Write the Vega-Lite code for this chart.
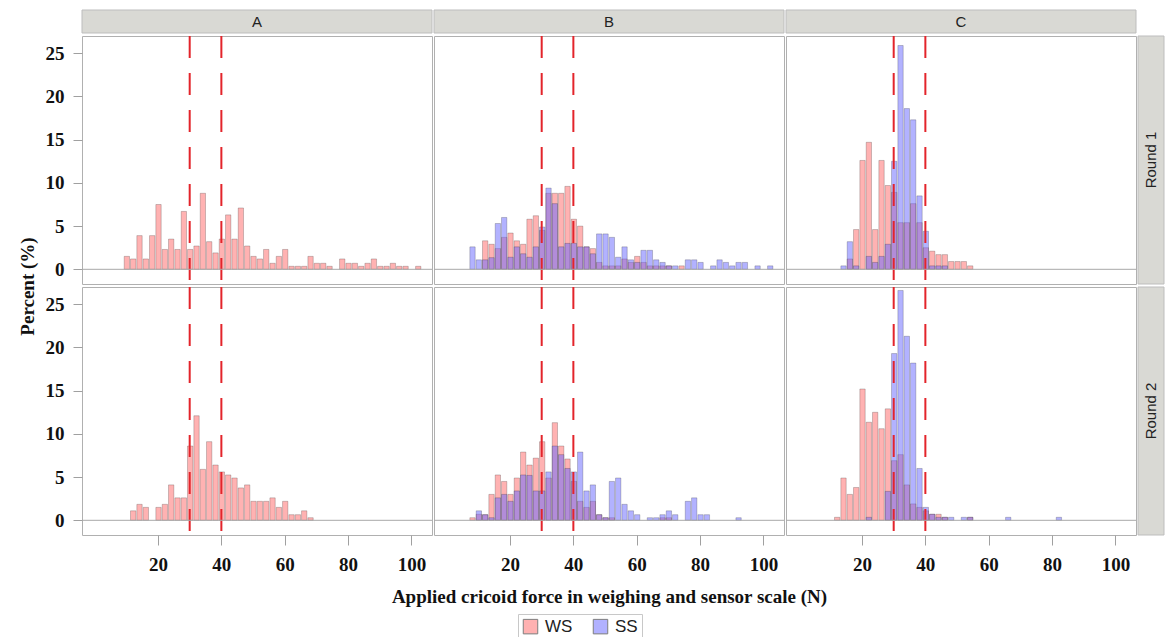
{
"$schema":"https://vega.github.io/schema/vega-lite/v6.json",
"padding":{"left":17,"top":9,"right":0,"bottom":0},
"background":"white",
"datasets":{
"cuts":[{"v":30},{"v":40}],
"h":[
{"p":"A","r":1,"s":"WS","c":10,"pct":1.5},{"p":"A","r":1,"s":"WS","c":12,"pct":1.2},{"p":"A","r":1,"s":"WS","c":14,"pct":3.9},{"p":"A","r":1,"s":"WS","c":16,"pct":1.2},{"p":"A","r":1,"s":"WS","c":18,"pct":3.9},{"p":"A","r":1,"s":"WS","c":20,"pct":7.5},{"p":"A","r":1,"s":"WS","c":22,"pct":2.3},{"p":"A","r":1,"s":"WS","c":24,"pct":3.5},{"p":"A","r":1,"s":"WS","c":26,"pct":2.3},{"p":"A","r":1,"s":"WS","c":28,"pct":6.7},{"p":"A","r":1,"s":"WS","c":30,"pct":2.3},{"p":"A","r":1,"s":"WS","c":32,"pct":2.7},{"p":"A","r":1,"s":"WS","c":34,"pct":8.8},{"p":"A","r":1,"s":"WS","c":36,"pct":3.2},{"p":"A","r":1,"s":"WS","c":38,"pct":1.9},{"p":"A","r":1,"s":"WS","c":40,"pct":3.5},{"p":"A","r":1,"s":"WS","c":42,"pct":6.3},{"p":"A","r":1,"s":"WS","c":44,"pct":3.5},{"p":"A","r":1,"s":"WS","c":46,"pct":7.1},{"p":"A","r":1,"s":"WS","c":48,"pct":2.7},{"p":"A","r":1,"s":"WS","c":50,"pct":1.5},{"p":"A","r":1,"s":"WS","c":52,"pct":1.2},{"p":"A","r":1,"s":"WS","c":54,"pct":2.3},{"p":"A","r":1,"s":"WS","c":56,"pct":0.7},{"p":"A","r":1,"s":"WS","c":58,"pct":1.5},{"p":"A","r":1,"s":"WS","c":60,"pct":2.3},{"p":"A","r":1,"s":"WS","c":62,"pct":0.35},{"p":"A","r":1,"s":"WS","c":64,"pct":0.35},{"p":"A","r":1,"s":"WS","c":66,"pct":0.35},{"p":"A","r":1,"s":"WS","c":68,"pct":1.5},{"p":"A","r":1,"s":"WS","c":70,"pct":0.7},{"p":"A","r":1,"s":"WS","c":72,"pct":0.7},{"p":"A","r":1,"s":"WS","c":74,"pct":0.35},{"p":"A","r":1,"s":"WS","c":78,"pct":1.2},{"p":"A","r":1,"s":"WS","c":80,"pct":0.7},{"p":"A","r":1,"s":"WS","c":82,"pct":0.7},{"p":"A","r":1,"s":"WS","c":84,"pct":0.35},{"p":"A","r":1,"s":"WS","c":86,"pct":0.7},{"p":"A","r":1,"s":"WS","c":88,"pct":1.2},{"p":"A","r":1,"s":"WS","c":90,"pct":0.35},{"p":"A","r":1,"s":"WS","c":92,"pct":0.35},{"p":"A","r":1,"s":"WS","c":94,"pct":0.7},{"p":"A","r":1,"s":"WS","c":96,"pct":0.35},{"p":"A","r":1,"s":"WS","c":98,"pct":0.35},{"p":"A","r":1,"s":"WS","c":102,"pct":0.35},

{"p":"B","r":1,"s":"WS","c":12,"pct":3.3},{"p":"B","r":1,"s":"WS","c":14,"pct":2.9},{"p":"B","r":1,"s":"WS","c":16,"pct":2.4},{"p":"B","r":1,"s":"WS","c":18,"pct":3.7},{"p":"B","r":1,"s":"WS","c":20,"pct":4.2},{"p":"B","r":1,"s":"WS","c":22,"pct":3.3},{"p":"B","r":1,"s":"WS","c":24,"pct":2.9},{"p":"B","r":1,"s":"WS","c":26,"pct":5.8},{"p":"B","r":1,"s":"WS","c":28,"pct":6.2},{"p":"B","r":1,"s":"WS","c":30,"pct":4.5},{"p":"B","r":1,"s":"WS","c":32,"pct":8.8},{"p":"B","r":1,"s":"WS","c":34,"pct":8.8},{"p":"B","r":1,"s":"WS","c":36,"pct":8.8},{"p":"B","r":1,"s":"WS","c":38,"pct":9.6},{"p":"B","r":1,"s":"WS","c":40,"pct":5.8},{"p":"B","r":1,"s":"WS","c":42,"pct":5.0},{"p":"B","r":1,"s":"WS","c":44,"pct":2.6},{"p":"B","r":1,"s":"WS","c":46,"pct":2.4},{"p":"B","r":1,"s":"WS","c":48,"pct":0.8},{"p":"B","r":1,"s":"WS","c":50,"pct":0.4},{"p":"B","r":1,"s":"WS","c":52,"pct":0.4},{"p":"B","r":1,"s":"WS","c":54,"pct":0.4},{"p":"B","r":1,"s":"WS","c":56,"pct":1.2},{"p":"B","r":1,"s":"WS","c":58,"pct":0.8},{"p":"B","r":1,"s":"WS","c":60,"pct":1.5},{"p":"B","r":1,"s":"WS","c":62,"pct":0.8},{"p":"B","r":1,"s":"WS","c":64,"pct":0.4},{"p":"B","r":1,"s":"WS","c":66,"pct":0.4},{"p":"B","r":1,"s":"WS","c":68,"pct":0.4},{"p":"B","r":1,"s":"WS","c":70,"pct":0.4},{"p":"B","r":1,"s":"WS","c":74,"pct":0.4},
{"p":"B","r":1,"s":"SS","c":8,"pct":2.6},{"p":"B","r":1,"s":"SS","c":10,"pct":1.1},{"p":"B","r":1,"s":"SS","c":12,"pct":1.1},{"p":"B","r":1,"s":"SS","c":14,"pct":1.35},{"p":"B","r":1,"s":"SS","c":16,"pct":5.3},{"p":"B","r":1,"s":"SS","c":18,"pct":6.0},{"p":"B","r":1,"s":"SS","c":20,"pct":1.4},{"p":"B","r":1,"s":"SS","c":22,"pct":2.6},{"p":"B","r":1,"s":"SS","c":24,"pct":1.8},{"p":"B","r":1,"s":"SS","c":26,"pct":1.4},{"p":"B","r":1,"s":"SS","c":28,"pct":2.6},{"p":"B","r":1,"s":"SS","c":30,"pct":4.9},{"p":"B","r":1,"s":"SS","c":32,"pct":9.4},{"p":"B","r":1,"s":"SS","c":34,"pct":7.6},{"p":"B","r":1,"s":"SS","c":36,"pct":2.6},{"p":"B","r":1,"s":"SS","c":38,"pct":3.0},{"p":"B","r":1,"s":"SS","c":40,"pct":3.0},{"p":"B","r":1,"s":"SS","c":42,"pct":2.6},{"p":"B","r":1,"s":"SS","c":44,"pct":2.6},{"p":"B","r":1,"s":"SS","c":46,"pct":1.8},{"p":"B","r":1,"s":"SS","c":48,"pct":4.1},{"p":"B","r":1,"s":"SS","c":50,"pct":4.1},{"p":"B","r":1,"s":"SS","c":52,"pct":3.7},{"p":"B","r":1,"s":"SS","c":54,"pct":1.4},{"p":"B","r":1,"s":"SS","c":56,"pct":2.6},{"p":"B","r":1,"s":"SS","c":58,"pct":1.1},{"p":"B","r":1,"s":"SS","c":60,"pct":0.8},{"p":"B","r":1,"s":"SS","c":62,"pct":2.2},{"p":"B","r":1,"s":"SS","c":64,"pct":2.2},{"p":"B","r":1,"s":"SS","c":66,"pct":1.1},{"p":"B","r":1,"s":"SS","c":68,"pct":0.8},{"p":"B","r":1,"s":"SS","c":70,"pct":0.4},{"p":"B","r":1,"s":"SS","c":72,"pct":0.4},{"p":"B","r":1,"s":"SS","c":76,"pct":1.1},{"p":"B","r":1,"s":"SS","c":78,"pct":1.1},{"p":"B","r":1,"s":"SS","c":80,"pct":0.8},{"p":"B","r":1,"s":"SS","c":84,"pct":0.4},{"p":"B","r":1,"s":"SS","c":86,"pct":1.1},{"p":"B","r":1,"s":"SS","c":88,"pct":0.8},{"p":"B","r":1,"s":"SS","c":90,"pct":0.4},{"p":"B","r":1,"s":"SS","c":92,"pct":0.8},{"p":"B","r":1,"s":"SS","c":94,"pct":0.8},{"p":"B","r":1,"s":"SS","c":98,"pct":0.4},{"p":"B","r":1,"s":"SS","c":102,"pct":0.4},

{"p":"C","r":1,"s":"WS","c":16,"pct":1.2},{"p":"C","r":1,"s":"WS","c":18,"pct":4.6},{"p":"C","r":1,"s":"WS","c":20,"pct":12.6},{"p":"C","r":1,"s":"WS","c":22,"pct":14.7},{"p":"C","r":1,"s":"WS","c":24,"pct":4.6},{"p":"C","r":1,"s":"WS","c":26,"pct":12.6},{"p":"C","r":1,"s":"WS","c":28,"pct":9.7},{"p":"C","r":1,"s":"WS","c":30,"pct":8.9},{"p":"C","r":1,"s":"WS","c":32,"pct":5.4},{"p":"C","r":1,"s":"WS","c":34,"pct":5.4},{"p":"C","r":1,"s":"WS","c":36,"pct":7.6},{"p":"C","r":1,"s":"WS","c":38,"pct":5.4},{"p":"C","r":1,"s":"WS","c":40,"pct":2.5},{"p":"C","r":1,"s":"WS","c":42,"pct":2.1},{"p":"C","r":1,"s":"WS","c":44,"pct":1.7},{"p":"C","r":1,"s":"WS","c":46,"pct":1.7},{"p":"C","r":1,"s":"WS","c":48,"pct":0.9},{"p":"C","r":1,"s":"WS","c":50,"pct":0.9},{"p":"C","r":1,"s":"WS","c":52,"pct":0.9},{"p":"C","r":1,"s":"WS","c":54,"pct":0.4},
{"p":"C","r":1,"s":"SS","c":14,"pct":0.4},{"p":"C","r":1,"s":"SS","c":16,"pct":3.2},{"p":"C","r":1,"s":"SS","c":18,"pct":0.4},{"p":"C","r":1,"s":"SS","c":22,"pct":1.5},{"p":"C","r":1,"s":"SS","c":24,"pct":0.8},{"p":"C","r":1,"s":"SS","c":26,"pct":1.5},{"p":"C","r":1,"s":"SS","c":28,"pct":2.9},{"p":"C","r":1,"s":"SS","c":30,"pct":12.5},{"p":"C","r":1,"s":"SS","c":32,"pct":25.9},{"p":"C","r":1,"s":"SS","c":34,"pct":18.6},{"p":"C","r":1,"s":"SS","c":36,"pct":17.3},{"p":"C","r":1,"s":"SS","c":38,"pct":8.5},{"p":"C","r":1,"s":"SS","c":40,"pct":4.4},{"p":"C","r":1,"s":"SS","c":42,"pct":0.4},{"p":"C","r":1,"s":"SS","c":44,"pct":0.4},{"p":"C","r":1,"s":"SS","c":46,"pct":0.4},

{"p":"A","r":2,"s":"WS","c":12,"pct":1.1},{"p":"A","r":2,"s":"WS","c":14,"pct":1.85},{"p":"A","r":2,"s":"WS","c":16,"pct":1.5},{"p":"A","r":2,"s":"WS","c":20,"pct":1.5},{"p":"A","r":2,"s":"WS","c":22,"pct":1.85},{"p":"A","r":2,"s":"WS","c":24,"pct":4.1},{"p":"A","r":2,"s":"WS","c":26,"pct":2.6},{"p":"A","r":2,"s":"WS","c":28,"pct":2.6},{"p":"A","r":2,"s":"WS","c":30,"pct":8.6},{"p":"A","r":2,"s":"WS","c":32,"pct":12.1},{"p":"A","r":2,"s":"WS","c":34,"pct":5.9},{"p":"A","r":2,"s":"WS","c":36,"pct":9.1},{"p":"A","r":2,"s":"WS","c":38,"pct":6.4},{"p":"A","r":2,"s":"WS","c":40,"pct":5.6},{"p":"A","r":2,"s":"WS","c":42,"pct":5.25},{"p":"A","r":2,"s":"WS","c":44,"pct":4.9},{"p":"A","r":2,"s":"WS","c":46,"pct":3.75},{"p":"A","r":2,"s":"WS","c":48,"pct":4.1},{"p":"A","r":2,"s":"WS","c":50,"pct":2.2},{"p":"A","r":2,"s":"WS","c":52,"pct":2.2},{"p":"A","r":2,"s":"WS","c":54,"pct":2.2},{"p":"A","r":2,"s":"WS","c":56,"pct":2.6},{"p":"A","r":2,"s":"WS","c":58,"pct":1.5},{"p":"A","r":2,"s":"WS","c":60,"pct":2.2},{"p":"A","r":2,"s":"WS","c":62,"pct":0.65},{"p":"A","r":2,"s":"WS","c":64,"pct":0.65},{"p":"A","r":2,"s":"WS","c":66,"pct":1.1},{"p":"A","r":2,"s":"WS","c":68,"pct":0.3},

{"p":"B","r":2,"s":"WS","c":8,"pct":0.3},{"p":"B","r":2,"s":"WS","c":10,"pct":0.7},{"p":"B","r":2,"s":"WS","c":12,"pct":0.65},{"p":"B","r":2,"s":"WS","c":14,"pct":3.0},{"p":"B","r":2,"s":"WS","c":16,"pct":5.25},{"p":"B","r":2,"s":"WS","c":18,"pct":4.5},{"p":"B","r":2,"s":"WS","c":20,"pct":3.0},{"p":"B","r":2,"s":"WS","c":22,"pct":4.9},{"p":"B","r":2,"s":"WS","c":24,"pct":7.9},{"p":"B","r":2,"s":"WS","c":26,"pct":6.4},{"p":"B","r":2,"s":"WS","c":28,"pct":7.2},{"p":"B","r":2,"s":"WS","c":30,"pct":9.1},{"p":"B","r":2,"s":"WS","c":32,"pct":4.9},{"p":"B","r":2,"s":"WS","c":34,"pct":11.3},{"p":"B","r":2,"s":"WS","c":36,"pct":8.6},{"p":"B","r":2,"s":"WS","c":38,"pct":7.1},{"p":"B","r":2,"s":"WS","c":40,"pct":4.5},{"p":"B","r":2,"s":"WS","c":42,"pct":2.2},{"p":"B","r":2,"s":"WS","c":44,"pct":1.5},{"p":"B","r":2,"s":"WS","c":46,"pct":2.2},{"p":"B","r":2,"s":"WS","c":48,"pct":0.65},{"p":"B","r":2,"s":"WS","c":50,"pct":0.3},{"p":"B","r":2,"s":"WS","c":52,"pct":0.3},{"p":"B","r":2,"s":"WS","c":68,"pct":0.3},{"p":"B","r":2,"s":"WS","c":70,"pct":0.3},
{"p":"B","r":2,"s":"SS","c":10,"pct":1.1},{"p":"B","r":2,"s":"SS","c":12,"pct":0.65},{"p":"B","r":2,"s":"SS","c":14,"pct":0.3},{"p":"B","r":2,"s":"SS","c":16,"pct":2.6},{"p":"B","r":2,"s":"SS","c":18,"pct":3.0},{"p":"B","r":2,"s":"SS","c":20,"pct":2.2},{"p":"B","r":2,"s":"SS","c":22,"pct":3.4},{"p":"B","r":2,"s":"SS","c":24,"pct":5.25},{"p":"B","r":2,"s":"SS","c":26,"pct":5.2},{"p":"B","r":2,"s":"SS","c":28,"pct":3.4},{"p":"B","r":2,"s":"SS","c":30,"pct":3.4},{"p":"B","r":2,"s":"SS","c":32,"pct":5.6},{"p":"B","r":2,"s":"SS","c":34,"pct":8.6},{"p":"B","r":2,"s":"SS","c":36,"pct":7.6},{"p":"B","r":2,"s":"SS","c":38,"pct":6.0},{"p":"B","r":2,"s":"SS","c":40,"pct":5.6},{"p":"B","r":2,"s":"SS","c":42,"pct":7.9},{"p":"B","r":2,"s":"SS","c":44,"pct":3.4},{"p":"B","r":2,"s":"SS","c":46,"pct":4.1},{"p":"B","r":2,"s":"SS","c":48,"pct":0.65},{"p":"B","r":2,"s":"SS","c":50,"pct":0.3},{"p":"B","r":2,"s":"SS","c":52,"pct":4.5},{"p":"B","r":2,"s":"SS","c":54,"pct":4.9},{"p":"B","r":2,"s":"SS","c":56,"pct":1.85},{"p":"B","r":2,"s":"SS","c":58,"pct":1.1},{"p":"B","r":2,"s":"SS","c":60,"pct":0.65},{"p":"B","r":2,"s":"SS","c":64,"pct":0.3},{"p":"B","r":2,"s":"SS","c":66,"pct":0.3},{"p":"B","r":2,"s":"SS","c":68,"pct":0.65},{"p":"B","r":2,"s":"SS","c":70,"pct":1.1},{"p":"B","r":2,"s":"SS","c":72,"pct":0.65},{"p":"B","r":2,"s":"SS","c":76,"pct":2.2},{"p":"B","r":2,"s":"SS","c":78,"pct":2.6},{"p":"B","r":2,"s":"SS","c":80,"pct":0.65},{"p":"B","r":2,"s":"SS","c":82,"pct":0.65},{"p":"B","r":2,"s":"SS","c":92,"pct":0.3},

{"p":"C","r":2,"s":"WS","c":12,"pct":0.35},{"p":"C","r":2,"s":"WS","c":14,"pct":4.9},{"p":"C","r":2,"s":"WS","c":16,"pct":3.0},{"p":"C","r":2,"s":"WS","c":18,"pct":3.8},{"p":"C","r":2,"s":"WS","c":20,"pct":15.2},{"p":"C","r":2,"s":"WS","c":22,"pct":11.35},{"p":"C","r":2,"s":"WS","c":24,"pct":12.5},{"p":"C","r":2,"s":"WS","c":26,"pct":10.6},{"p":"C","r":2,"s":"WS","c":28,"pct":12.9},{"p":"C","r":2,"s":"WS","c":30,"pct":6.9},{"p":"C","r":2,"s":"WS","c":32,"pct":7.6},{"p":"C","r":2,"s":"WS","c":34,"pct":4.1},{"p":"C","r":2,"s":"WS","c":36,"pct":1.9},{"p":"C","r":2,"s":"WS","c":38,"pct":1.5},{"p":"C","r":2,"s":"WS","c":40,"pct":1.1},{"p":"C","r":2,"s":"WS","c":42,"pct":0.7},{"p":"C","r":2,"s":"WS","c":44,"pct":0.7},{"p":"C","r":2,"s":"WS","c":46,"pct":0.35},{"p":"C","r":2,"s":"WS","c":54,"pct":0.35},
{"p":"C","r":2,"s":"SS","c":22,"pct":0.35},{"p":"C","r":2,"s":"SS","c":28,"pct":3.35},{"p":"C","r":2,"s":"SS","c":30,"pct":19.3},{"p":"C","r":2,"s":"SS","c":32,"pct":26.6},{"p":"C","r":2,"s":"SS","c":34,"pct":21.3},{"p":"C","r":2,"s":"SS","c":36,"pct":18.2},{"p":"C","r":2,"s":"SS","c":38,"pct":6.0},{"p":"C","r":2,"s":"SS","c":40,"pct":1.5},{"p":"C","r":2,"s":"SS","c":42,"pct":0.7},{"p":"C","r":2,"s":"SS","c":44,"pct":0.35},{"p":"C","r":2,"s":"SS","c":46,"pct":0.35},{"p":"C","r":2,"s":"SS","c":48,"pct":0.35},{"p":"C","r":2,"s":"SS","c":52,"pct":0.35},{"p":"C","r":2,"s":"SS","c":54,"pct":0.35},{"p":"C","r":2,"s":"SS","c":66,"pct":0.35},{"p":"C","r":2,"s":"SS","c":82,"pct":0.35}
]},
"bounds":"flush",
"columns":4,
"spacing":{"row":3,"column":2},
"concat":[
  {"width":350,"height":23,"data":{"values":[{"t":"A"}]},"layer":[
   {"mark":{"type":"rect","fill":"#d9d9d4","stroke":"#bdbdbd"},"encoding":{}},
   {"mark":{"type":"text","font":"Liberation Sans","fontSize":15,"color":"#222"},"encoding":{"text":{"field":"t"}}}]},
  {"width":350,"height":23,"data":{"values":[{"t":"B"}]},"layer":[
   {"mark":{"type":"rect","fill":"#d9d9d4","stroke":"#bdbdbd"},"encoding":{}},
   {"mark":{"type":"text","font":"Liberation Sans","fontSize":15,"color":"#222"},"encoding":{"text":{"field":"t"}}}]},
  {"width":350,"height":23,"data":{"values":[{"t":"C"}]},"layer":[
   {"mark":{"type":"rect","fill":"#d9d9d4","stroke":"#bdbdbd"},"encoding":{}},
   {"mark":{"type":"text","font":"Liberation Sans","fontSize":15,"color":"#222"},"encoding":{"text":{"field":"t"}}}]},
  {"width":26,"height":23,"view":{"stroke":null},"data":{"values":[{"t":""}]},"mark":{"type":"text","opacity":0},"encoding":{"text":{"field":"t"}}},

   {"width":350,"height":248,"layer":[
    {"data":{"name":"h"},"transform":[{"filter":"datum.p=='A' && datum.r==1"},{"bin":{"step":2,"anchor":1,"extent":[-5,109],"nice":false},"field":"c","as":["b0","b1"]}],
     "mark":{"type":"bar","fillOpacity":0.5,"stroke":"#000","strokeOpacity":0.25,"strokeWidth":0.8},
     "encoding":{
      "x":{"field":"b0","type":"quantitative","bin":{"binned":true},"scale":{"domain":[-4,106.5],"nice":false,"zero":false},"axis":null},
      "x2":{"field":"b1"},
      "y":{"field":"pct","type":"quantitative","stack":null,"scale":{"domain":[-1.7,27],"nice":false,"zero":false},"axis":{"values":[0,5,10,15,20,25],"title":"Percent (%)","titleY":250,"titlePadding":8}},
      "y2":{"datum":0},
      "color":{"field":"s","type":"nominal","scale":{"domain":["WS","SS"],"range":["#ff6666","#6666ff"]},"legend":{"title":null,"orient":"none","legendX":436,"legendY":604,"direction":"horizontal","strokeColor":"#c8c8c8","padding":4,"symbolType":"square","symbolSize":210,"symbolOpacity":0.5,"symbolStrokeColor":"#666","symbolStrokeWidth":1,"labelFont":"Liberation Sans","labelFontSize":17,"labelColor":"#222","columnPadding":18,"labelOffset":6}}}},
    {"data":{"name":"cuts"},"mark":{"type":"rule","color":"#e3242b","strokeWidth":2,"strokeDash":[22,15]},"encoding":{"x":{"field":"v","type":"quantitative","scale":{"domain":[-4,106.5],"nice":false,"zero":false}}}},
    {"data":{"values":[{}]},"mark":{"type":"rule","color":"#a8a8a8","strokeWidth":1},"encoding":{"y":{"datum":0,"type":"quantitative","scale":{"domain":[-1.7,27],"nice":false,"zero":false}}}}
   ]},
   {"width":350,"height":248,"layer":[
    {"data":{"name":"h"},"transform":[{"filter":"datum.p=='B' && datum.r==1"},{"bin":{"step":2,"anchor":1,"extent":[-5,109],"nice":false},"field":"c","as":["b0","b1"]}],
     "mark":{"type":"bar","fillOpacity":0.5,"stroke":"#000","strokeOpacity":0.25,"strokeWidth":0.8},
     "encoding":{
      "x":{"field":"b0","type":"quantitative","bin":{"binned":true},"scale":{"domain":[-4,106.5],"nice":false,"zero":false},"axis":null},
      "x2":{"field":"b1"},
      "y":{"field":"pct","type":"quantitative","stack":null,"scale":{"domain":[-1.7,27],"nice":false,"zero":false},"axis":null},
      "y2":{"datum":0},
      "color":{"field":"s","type":"nominal","scale":{"domain":["WS","SS"],"range":["#ff6666","#6666ff"]}}}},
    {"data":{"name":"cuts"},"mark":{"type":"rule","color":"#e3242b","strokeWidth":2,"strokeDash":[22,15]},"encoding":{"x":{"field":"v","type":"quantitative","scale":{"domain":[-4,106.5],"nice":false,"zero":false}}}},
    {"data":{"values":[{}]},"mark":{"type":"rule","color":"#a8a8a8","strokeWidth":1},"encoding":{"y":{"datum":0,"type":"quantitative","scale":{"domain":[-1.7,27],"nice":false,"zero":false}}}}
   ]},
   {"width":350,"height":248,"layer":[
    {"data":{"name":"h"},"transform":[{"filter":"datum.p=='C' && datum.r==1"},{"bin":{"step":2,"anchor":1,"extent":[-5,109],"nice":false},"field":"c","as":["b0","b1"]}],
     "mark":{"type":"bar","fillOpacity":0.5,"stroke":"#000","strokeOpacity":0.25,"strokeWidth":0.8},
     "encoding":{
      "x":{"field":"b0","type":"quantitative","bin":{"binned":true},"scale":{"domain":[-4,106.5],"nice":false,"zero":false},"axis":null},
      "x2":{"field":"b1"},
      "y":{"field":"pct","type":"quantitative","stack":null,"scale":{"domain":[-1.7,27],"nice":false,"zero":false},"axis":null},
      "y2":{"datum":0},
      "color":{"field":"s","type":"nominal","scale":{"domain":["WS","SS"],"range":["#ff6666","#6666ff"]}}}},
    {"data":{"name":"cuts"},"mark":{"type":"rule","color":"#e3242b","strokeWidth":2,"strokeDash":[22,15]},"encoding":{"x":{"field":"v","type":"quantitative","scale":{"domain":[-4,106.5],"nice":false,"zero":false}}}},
    {"data":{"values":[{}]},"mark":{"type":"rule","color":"#a8a8a8","strokeWidth":1},"encoding":{"y":{"datum":0,"type":"quantitative","scale":{"domain":[-1.7,27],"nice":false,"zero":false}}}}
   ]},
   {"width":26,"height":248,"data":{"values":[{"t":"Round 1"}]},"layer":[
    {"mark":{"type":"rect","fill":"#d9d9d4","stroke":"#bdbdbd"},"encoding":{}},
    {"mark":{"type":"text","font":"Liberation Sans","fontSize":15,"color":"#222","angle":270},"encoding":{"text":{"field":"t"}}}]},

   {"width":350,"height":248,"layer":[
    {"data":{"name":"h"},"transform":[{"filter":"datum.p=='A' && datum.r==2"},{"bin":{"step":2,"anchor":1,"extent":[-5,109],"nice":false},"field":"c","as":["b0","b1"]}],
     "mark":{"type":"bar","fillOpacity":0.5,"stroke":"#000","strokeOpacity":0.25,"strokeWidth":0.8},
     "encoding":{
      "x":{"field":"b0","type":"quantitative","bin":{"binned":true},"scale":{"domain":[-4,106.5],"nice":false,"zero":false},"axis":{"values":[20,40,60,80,100],"title":null,"tickSize":10,"labelPadding":10}},
      "x2":{"field":"b1"},
      "y":{"field":"pct","type":"quantitative","stack":null,"scale":{"domain":[-1.7,27],"nice":false,"zero":false},"axis":{"values":[0,5,10,15,20,25],"title":null}},
      "y2":{"datum":0},
      "color":{"field":"s","type":"nominal","scale":{"domain":["WS","SS"],"range":["#ff6666","#6666ff"]}}}},
    {"data":{"name":"cuts"},"mark":{"type":"rule","color":"#e3242b","strokeWidth":2,"strokeDash":[22,15]},"encoding":{"x":{"field":"v","type":"quantitative","scale":{"domain":[-4,106.5],"nice":false,"zero":false}}}},
    {"data":{"values":[{}]},"mark":{"type":"rule","color":"#a8a8a8","strokeWidth":1},"encoding":{"y":{"datum":0,"type":"quantitative","scale":{"domain":[-1.7,27],"nice":false,"zero":false}}}}
   ]},
   {"width":350,"height":248,"layer":[
    {"data":{"name":"h"},"transform":[{"filter":"datum.p=='B' && datum.r==2"},{"bin":{"step":2,"anchor":1,"extent":[-5,109],"nice":false},"field":"c","as":["b0","b1"]}],
     "mark":{"type":"bar","fillOpacity":0.5,"stroke":"#000","strokeOpacity":0.25,"strokeWidth":0.8},
     "encoding":{
      "x":{"field":"b0","type":"quantitative","bin":{"binned":true},"scale":{"domain":[-4,106.5],"nice":false,"zero":false},"axis":{"values":[20,40,60,80,100],"title":"Applied cricoid force in weighing and sensor scale (N)","tickSize":10,"labelPadding":10,"titlePadding":13}},
      "x2":{"field":"b1"},
      "y":{"field":"pct","type":"quantitative","stack":null,"scale":{"domain":[-1.7,27],"nice":false,"zero":false},"axis":null},
      "y2":{"datum":0},
      "color":{"field":"s","type":"nominal","scale":{"domain":["WS","SS"],"range":["#ff6666","#6666ff"]}}}},
    {"data":{"name":"cuts"},"mark":{"type":"rule","color":"#e3242b","strokeWidth":2,"strokeDash":[22,15]},"encoding":{"x":{"field":"v","type":"quantitative","scale":{"domain":[-4,106.5],"nice":false,"zero":false}}}},
    {"data":{"values":[{}]},"mark":{"type":"rule","color":"#a8a8a8","strokeWidth":1},"encoding":{"y":{"datum":0,"type":"quantitative","scale":{"domain":[-1.7,27],"nice":false,"zero":false}}}}
   ]},
   {"width":350,"height":248,"layer":[
    {"data":{"name":"h"},"transform":[{"filter":"datum.p=='C' && datum.r==2"},{"bin":{"step":2,"anchor":1,"extent":[-5,109],"nice":false},"field":"c","as":["b0","b1"]}],
     "mark":{"type":"bar","fillOpacity":0.5,"stroke":"#000","strokeOpacity":0.25,"strokeWidth":0.8},
     "encoding":{
      "x":{"field":"b0","type":"quantitative","bin":{"binned":true},"scale":{"domain":[-4,106.5],"nice":false,"zero":false},"axis":{"values":[20,40,60,80,100],"title":null,"tickSize":10,"labelPadding":10}},
      "x2":{"field":"b1"},
      "y":{"field":"pct","type":"quantitative","stack":null,"scale":{"domain":[-1.7,27],"nice":false,"zero":false},"axis":null},
      "y2":{"datum":0},
      "color":{"field":"s","type":"nominal","scale":{"domain":["WS","SS"],"range":["#ff6666","#6666ff"]}}}},
    {"data":{"name":"cuts"},"mark":{"type":"rule","color":"#e3242b","strokeWidth":2,"strokeDash":[22,15]},"encoding":{"x":{"field":"v","type":"quantitative","scale":{"domain":[-4,106.5],"nice":false,"zero":false}}}},
    {"data":{"values":[{}]},"mark":{"type":"rule","color":"#a8a8a8","strokeWidth":1},"encoding":{"y":{"datum":0,"type":"quantitative","scale":{"domain":[-1.7,27],"nice":false,"zero":false}}}}
   ]},
   {"width":26,"height":248,"data":{"values":[{"t":"Round 2"}]},"layer":[
    {"mark":{"type":"rect","fill":"#d9d9d4","stroke":"#bdbdbd"},"encoding":{}},
    {"mark":{"type":"text","font":"Liberation Sans","fontSize":15,"color":"#222","angle":270},"encoding":{"text":{"field":"t"}}}]}
],
"config":{
 "view":{"stroke":"#b0b0b0","strokeWidth":1},
 "axis":{"labelFont":"Liberation Serif","labelFontWeight":"bold","labelFontSize":19,"labelColor":"#111","tickColor":"#a0a0a0","tickSize":9,"labelPadding":9,"domain":false,"grid":false,"titleFont":"Liberation Serif","titleFontWeight":"bold","titleFontSize":19,"titleColor":"#111"}
}
}
